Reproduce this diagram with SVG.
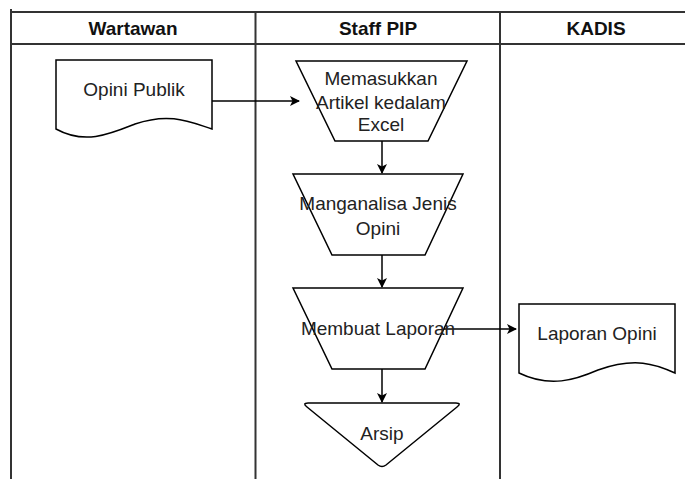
<svg xmlns="http://www.w3.org/2000/svg" width="685" height="479" viewBox="0 0 685 479">
<style>
.frame{stroke:#333;stroke-width:2;fill:none}
.shape{fill:#fff;stroke:#000;stroke-width:1.5}
.conn{stroke:#000;stroke-width:1.5;fill:none}
.hdr{font-family:"Liberation Sans",Arial,sans-serif;font-size:19px;font-weight:bold;fill:#111;text-anchor:middle}
.lbl{font-family:"Liberation Sans",Arial,sans-serif;font-size:19px;fill:#222;text-anchor:middle}
</style>
<defs>
<marker id="arr" markerWidth="10" markerHeight="10" refX="9" refY="5" orient="auto" markerUnits="userSpaceOnUse">
<path d="M0,0 L10,5 L0,10 L2.5,5 Z" fill="#000"/>
</marker>
</defs>
<rect width="685" height="479" fill="#fff"/>
<g id="lanes">
<line class="frame" x1="11" y1="9" x2="11" y2="479"/>
<line class="frame" x1="10" y1="12" x2="685" y2="12"/>
<line class="frame" x1="10" y1="44" x2="685" y2="44"/>
<line class="frame" x1="255.5" y1="12" x2="255.5" y2="479"/>
<line class="frame" x1="500" y1="12" x2="500" y2="479"/>
<text class="hdr" x="133" y="35">Wartawan</text>
<text class="hdr" x="378" y="35">Staff PIP</text>
<text class="hdr" x="596" y="35">KADIS</text>
</g>
<g id="connectors">
<line class="conn" x1="212" y1="101" x2="299" y2="101" marker-end="url(#arr)"/>
<line class="conn" x1="382" y1="141" x2="382" y2="173" marker-end="url(#arr)"/>
<line class="conn" x1="382" y1="255" x2="382" y2="287" marker-end="url(#arr)"/>
<line class="conn" x1="382" y1="369" x2="382" y2="402" marker-end="url(#arr)"/>
<line class="conn" x1="444" y1="329" x2="516" y2="329" marker-end="url(#arr)"/>
</g>
<g id="opini-publik">
<path class="shape" d="M56,60 H212 V129 C190,122 170,112 135,124 C110,134 85,145 56,129 Z"/>
<text class="lbl" x="134" y="96">Opini Publik</text>
</g>
<g id="memasukkan">
<path class="shape" d="M296,61 H467 L428,141 H335 Z"/>
<text class="lbl" x="381" y="85">Memasukkan</text>
<text class="lbl" x="381" y="109">Artikel kedalam</text>
<text class="lbl" x="381" y="131">Excel</text>
</g>
<g id="manganalisa">
<path class="shape" d="M293,174 H463 L425,255 H332 Z"/>
<text class="lbl" x="378" y="210">Manganalisa Jenis</text>
<text class="lbl" x="378" y="235">Opini</text>
</g>
<g id="membuat-laporan">
<path class="shape" d="M293,288 H463 L425,369 H332 Z"/>
<text class="lbl" x="378" y="335">Membuat Laporan</text>
</g>
<g id="arsip">
<path class="shape" d="M308,403 H456 Q462,403 457,407 L386,465 Q382,468 378,465 L307,407 Q302,403 308,403 Z"/>
<text class="lbl" x="382" y="440">Arsip</text>
</g>
<g id="laporan-opini">
<path class="shape" d="M519,304 H675 V373 C655,364 635,357 598,370 C575,380 550,388 519,373 Z"/>
<text class="lbl" x="597" y="340">Laporan Opini</text>
</g>
</svg>
